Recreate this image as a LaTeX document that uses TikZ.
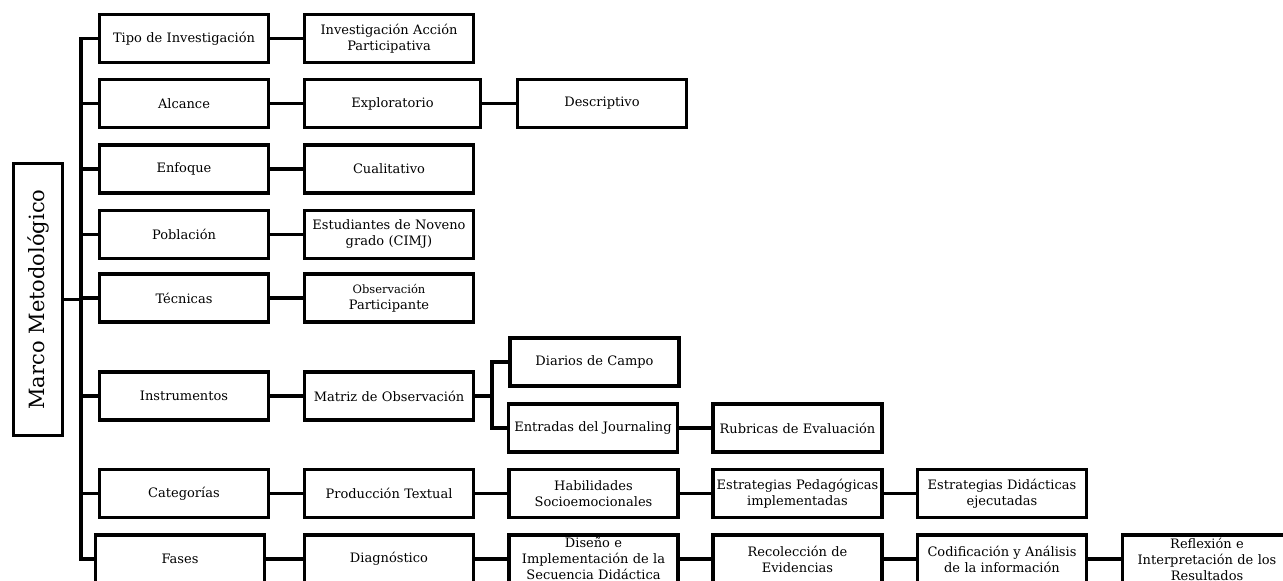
\documentclass[tikz,border=0pt]{standalone}
\usepackage{fontspec}
\setmainfont{DejaVu Serif}
\begin{document}
\begin{tikzpicture}[x=1pt,y=-1pt]
\tikzset{
 bx/.style={draw, line width=3.5pt, minimum width=169pt, minimum height=48pt, inner xsep=1pt, inner ysep=1pt, align=center, text width=167pt, font=\fontsize{13}{16}\selectfont},
 ln/.style={line width=3.5pt}
}
\useasboundingbox (0,0) rectangle (1283,581);
\clip (0,0) rectangle (1283,581);
\node[draw, line width=3.5pt, rotate=90, minimum width=272pt, minimum height=49pt, inner sep=0pt, font=\fontsize{21}{25}\selectfont] (marco) at (38,299.5) {Marco Metodológico};
\node[bx] (tipo) at (184,38.5) {Tipo de Investigación};
\node[bx] (iap) at (389,38.5) {Investigación Acción\\Participativa};
\node[bx] (alc) at (184,103.5) {Alcance};
\node[bx, minimum width=176pt] (exp) at (392.5,103.5) {Exploratorio};
\node[bx] (des) at (602,103.5) {Descriptivo};
\node[bx] (enf) at (184,169) {Enfoque};
\node[bx] (cual) at (389,169) {Cualitativo};
\node[bx] (pob) at (184,234.5) {Población};
\node[bx] (est) at (389,234.5) {Estudiantes de Noveno\\grado (CIMJ)};
\node[bx] (tec) at (184,298) {Técnicas};
\node[bx] (obs) at (389,298) {{\fontsize{11.5}{14}\selectfont Observación}\\Participante};
\node[bx] (ins) at (184,396) {Instrumentos};
\node[bx] (mat) at (389,396) {Matriz de Observación};
\node[bx] (dia) at (594.5,362) {Diarios de Campo};
\node[bx] (ent) at (593,428) {Entradas del Journaling};
\node[bx] (rub) at (797.5,428) {Rubricas de Evaluación};
\node[bx] (cat) at (184,493.5) {Categorías};
\node[bx] (pro) at (389,493.5) {Producción Textual};
\node[bx] (hab) at (593.5,493.5) {Habilidades\\Socioemocionales};
\node[bx] (ped) at (797.5,493.5) {Estrategias Pedagógicas\\implementadas};
\node[bx] (did) at (1002,493.5) {Estrategias Didácticas\\ejecutadas};
\node[bx] (fas) at (180,559) {Fases};
\node[bx] (dgn) at (389,559) {Diagnóstico};
\node[bx] (dis) at (593.5,559) {Diseño e\\Implementación de la\\Secuencia Didáctica};
\node[bx] (rec) at (797.5,559) {Recolección de\\Evidencias};
\node[bx] (cod) at (1002,559) {Codificación y Análisis\\de la información};
\node[bx] (ref) at (1207,559) {Reflexión e\\Interpretación de los\\Resultados};
\coordinate (tb) at (81,559);
\coordinate (fk) at (492,396);
\draw[ln] (tipo.west) -| (tb) -- (fas.west);
\foreach \n in {alc,enf,pob,tec,ins,cat} \draw[ln] (\n.west) -- (\n.west -| tb);
\draw[ln] (marco.south) -- (marco.south -| tb);
\draw[ln] (tipo) -- (iap);
\draw[ln] (alc) -- (exp);
\draw[ln] (exp) -- (des);
\draw[ln] (enf) -- (cual);
\draw[ln] (pob) -- (est);
\draw[ln] (tec) -- (obs);
\draw[ln] (ins) -- (mat);
\draw[ln] (mat.east) -- (fk);
\draw[ln] (dia.west) -| (fk) |- (ent.west);
\draw[ln] (ent) -- (rub);
\draw[ln] (cat) -- (pro);
\draw[ln] (pro) -- (hab);
\draw[ln] (hab) -- (ped);
\draw[ln] (ped) -- (did);
\draw[ln] (fas) -- (dgn);
\draw[ln] (dgn) -- (dis);
\draw[ln] (dis) -- (rec);
\draw[ln] (rec) -- (cod);
\draw[ln] (cod) -- (ref);
\end{tikzpicture}
\end{document}
